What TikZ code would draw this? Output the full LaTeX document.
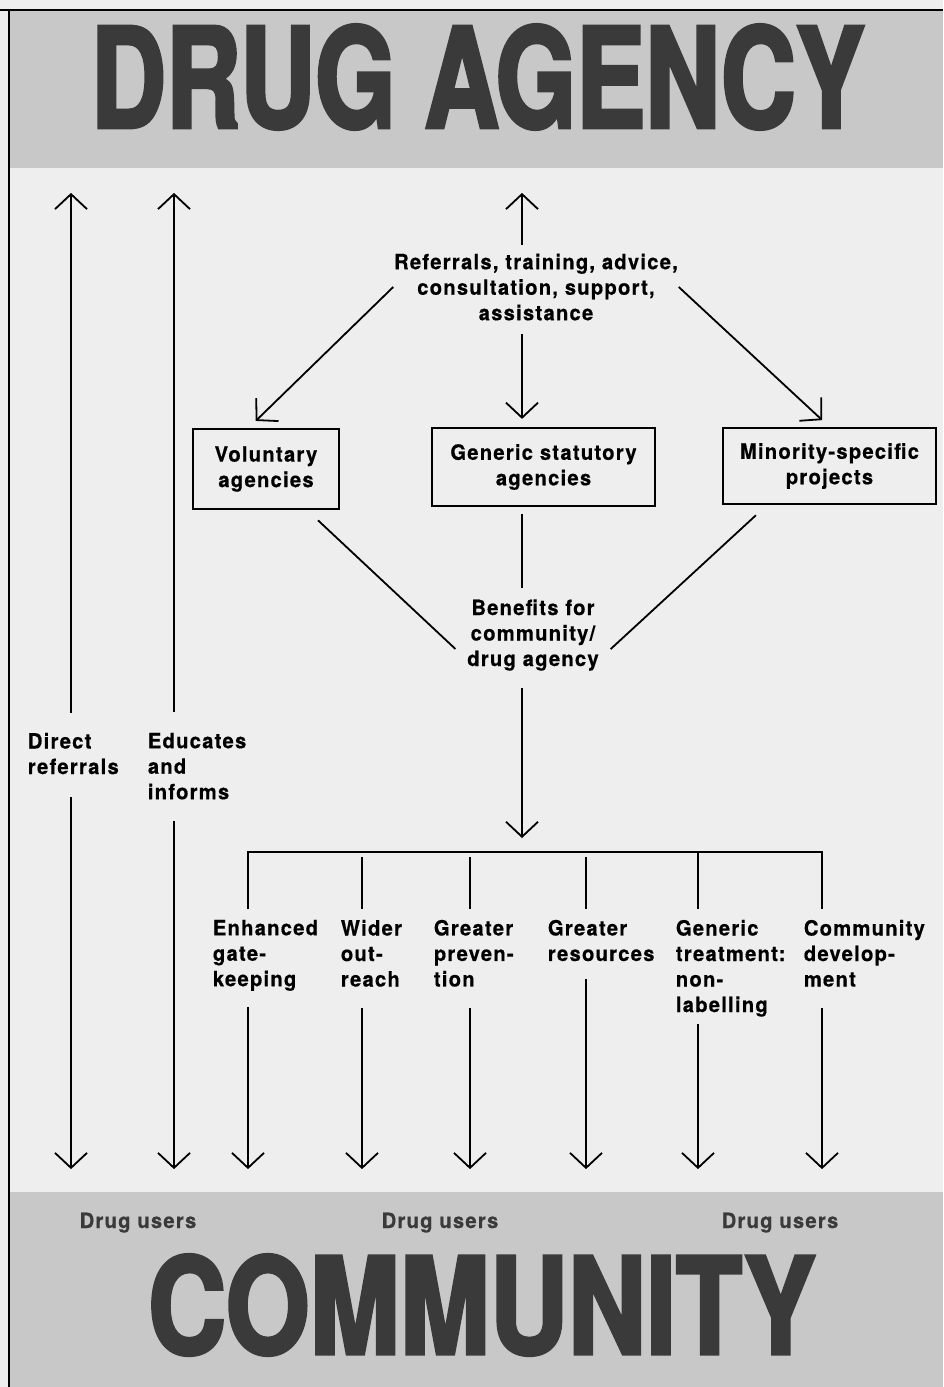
\documentclass[tikz,border=0pt]{standalone}
\usepackage{fontspec}
\setmainfont{TeX Gyre Heros}
\newfontfamily\headfont{TeX Gyre Heros}[FakeStretch=0.745, FakeBold=2.5]
\newfontfamily\footfont{TeX Gyre Heros}[FakeStretch=0.807, FakeBold=2.5]
\newfontfamily\lblfont{TeX Gyre Heros}[FakeStretch=0.96, LetterSpace=6, FakeBold=0.6]
\usetikzlibrary{arrows.meta}
\definecolor{paper}{RGB}{238,238,238}
\definecolor{bandgray}{RGB}{200,200,200}
\definecolor{ink}{RGB}{58,58,58}

\begin{document}
\begin{tikzpicture}[x=1pt, y=-1pt, line width=1.8pt,
  lbl/.style={font=\lblfont\bfseries\fontsize{21}{25.5}\selectfont, inner sep=0pt},
  box/.style={lbl, draw, line width=2.2pt, align=center},
  band/.style={fill=bandgray, inner sep=0pt, minimum width=934pt},
  flow/.style={-{Straight Barb[length=15pt, width=32pt]}}]

\useasboundingbox (0,0) rectangle (943,1387);
\fill[paper] (0,0) rectangle (943,1387);

\draw (476,89) node[band, minimum height=158pt] (topband) {};
\draw (476,1289.5) node[band, minimum height=195pt] (commband) {};
\draw[line width=2.2pt] (0,10) -- (943,10);
\draw[line width=2.2pt] (9,10) -- (9,1387);

\draw (478,77) node[font=\headfont\bfseries\fontsize{139}{139}\selectfont, text=ink, inner sep=0pt] (agency) {DRUG AGENCY};
\draw (482,1305) node[font=\footfont\bfseries\fontsize{134}{134}\selectfont, text=ink, inner sep=0pt] (community) {COMMUNITY};

\draw (536,287) node[lbl, align=center] (refs) {Referrals, training, advice,\\consultation, support,\\assistance};
\draw (266,469) node[box, minimum width=146pt, minimum height=80pt] (vol) {Voluntary\\agencies};
\draw (543.5,467) node[box, minimum width=223pt, minimum height=78pt] (gen) {Generic statutory\\agencies};
\draw (829.5,466) node[box, minimum width=213pt, minimum height=76pt] (minor) {Minority-specific\\projects};
\draw (533,635) node[lbl, align=center] (ben) {Benefits for\\community/\\drug agency};

\draw (27,732) node[lbl, align=left, anchor=north west] (dref) {Direct\\referrals};
\draw (147,732) node[lbl, align=left, anchor=north west] (edu) {Educates\\and\\informs};

\draw (212,919) node[lbl, align=left, anchor=north west] (enh) {Enhanced\\gate-\\keeping};
\draw (340,919) node[lbl, align=left, anchor=north west] (wid) {Wider\\out-\\reach};
\draw (433,919) node[lbl, align=left, anchor=north west] (prev) {Greater\\preven-\\tion};
\draw (547,919) node[lbl, align=left, anchor=north west] (res) {Greater\\resources};
\draw (675,919) node[lbl, align=left, anchor=north west] (gent) {Generic\\treatment:\\non-\\labelling};
\draw (803,919) node[lbl, align=left, anchor=north west] (cdev) {Community\\develop-\\ment};

\draw (138,1228) node[lbl, anchor=base, text=ink] (users1) {Drug users};
\draw (440,1228) node[lbl, anchor=base, text=ink] (users2) {Drug users};
\draw (780,1228) node[lbl, anchor=base, text=ink] (users3) {Drug users};

\coordinate (dcol) at (71,0);
\coordinate (ecol) at (174,0);
\coordinate (mid) at (522,0);
\coordinate (bus1) at (248,852);
\coordinate (bus2) at (362,852);
\coordinate (bus3) at (470,852);
\coordinate (bus4) at (586,852);
\coordinate (bus5) at (698,852);
\coordinate (bus6) at (822,852);

\draw[flow, shorten <=19pt, shorten >=24pt] (dcol |- dref.north) to (dcol |- topband.south);
\draw[flow, shorten <=20pt, shorten >=24pt] (ecol |- edu.north) to (ecol |- topband.south);
\draw[flow, shorten <=8pt, shorten >=24pt] (mid |- refs.north) to (mid |- topband.south);
\draw[flow, shorten <=13pt, shorten >=8pt] (mid |- refs.south) to (mid |- gen.north);
\draw[flow, shorten >=10pt] (refs.west) to (vol.113);
\draw[flow, shorten >=10pt] (refs.east) to (minor.north);

\draw[shorten <=15pt, shorten >=15pt] (vol.-45) to (ben.200);
\draw[shorten <=7pt, shorten >=10pt] (mid |- gen.south) to (mid |- ben.north);
\draw[shorten <=15pt, shorten >=15pt] (minor.212) to (ben.-20);
\draw[flow, shorten <=16pt, shorten >=14pt] (mid |- ben.south) to (mid |- bus1);

\draw[shorten <=10pt, shorten >=10pt] (bus1 |- enh.north) -- (bus1) -- (bus6) -- (bus6 |- cdev.north);
\draw[shorten <=5pt, shorten >=10pt] (bus2) to (bus2 |- wid.north);
\draw[shorten <=5pt, shorten >=10pt] (bus3) to (bus3 |- prev.north);
\draw[shorten <=5pt, shorten >=10pt] (bus4) to (bus4 |- res.north);
\draw[shorten >=10pt] (bus5) to (bus5 |- gent.north);

\draw[flow, shorten <=22pt, shorten >=22pt] (dcol |- dref.south) to (dcol |- commband.north);
\draw[flow, shorten <=21pt, shorten >=22pt] (ecol |- edu.south) to (ecol |- commband.north);
\draw[flow, shorten <=15pt, shorten >=22pt] (bus1 |- enh.south) to (bus1 |- commband.north);
\draw[flow, shorten <=20pt, shorten >=22pt] (bus2 |- wid.south) to (bus2 |- commband.north);
\draw[flow, shorten <=20pt, shorten >=22pt] (bus3 |- prev.south) to (bus3 |- commband.north);
\draw[flow, shorten <=17pt, shorten >=22pt] (bus4 |- res.south) to (bus4 |- commband.north);
\draw[flow, shorten <=6pt, shorten >=22pt] (bus5 |- gent.south) to (bus5 |- commband.north);
\draw[flow, shorten <=20pt, shorten >=22pt] (bus6 |- cdev.south) to (bus6 |- commband.north);

\end{tikzpicture}
\end{document}
